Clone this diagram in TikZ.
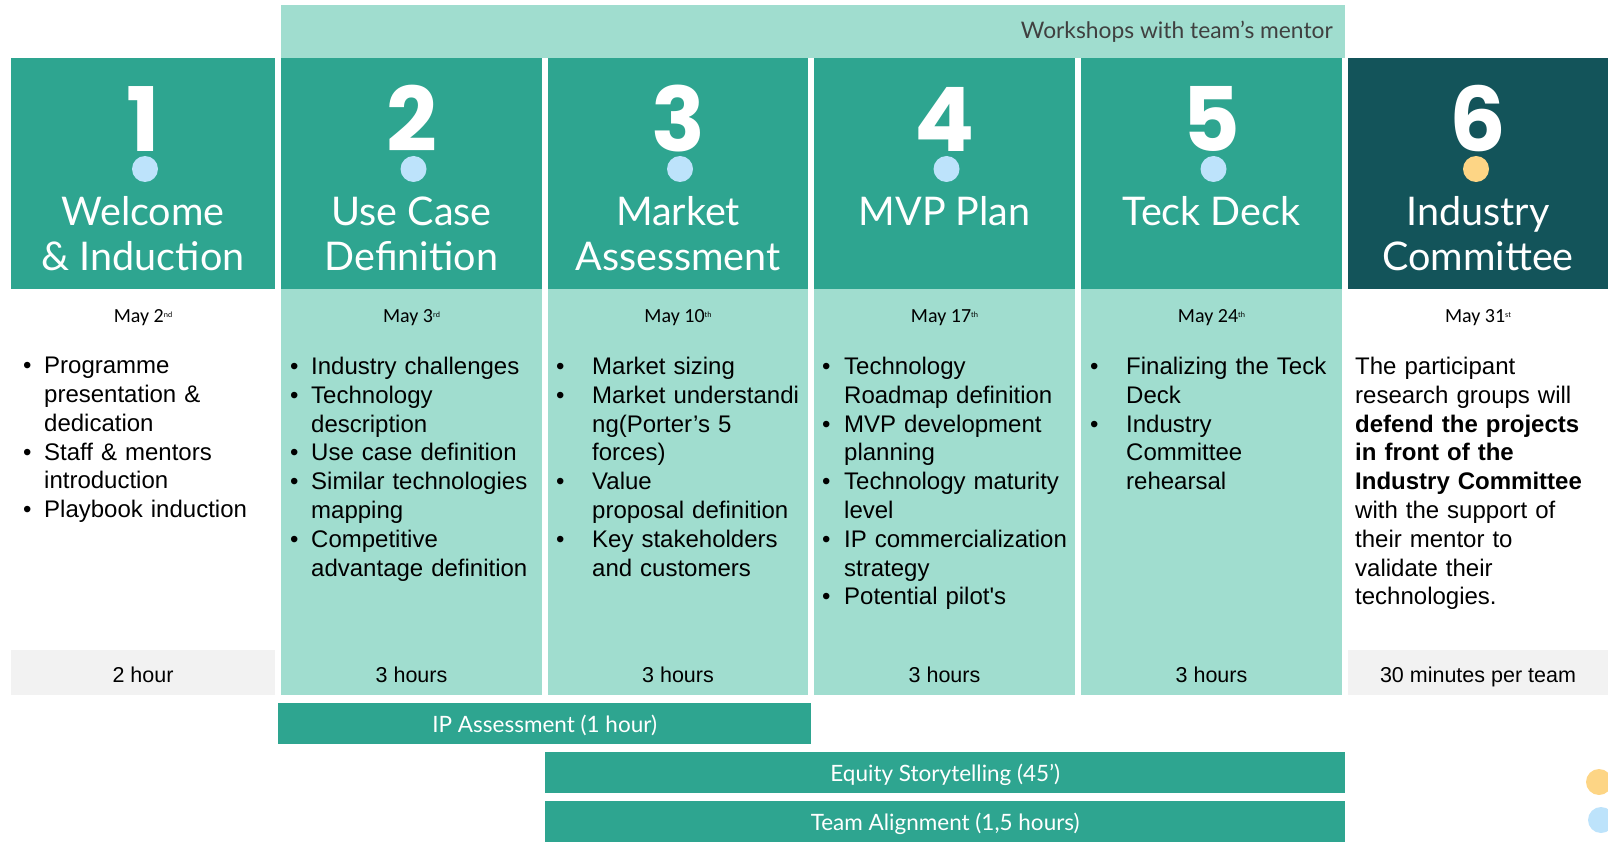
\documentclass[tikz,border=0pt]{standalone}
\usepackage{fontspec}
\setmainfont{Liberation Sans}
\newfontfamily\headfont{Lato}
\newfontfamily\numfont{Poppins}
\newfontfamily\datefont{Carlito}

\definecolor{midteal}{HTML}{2EA590}
\definecolor{lightteal}{HTML}{A0DDCF}
\definecolor{darkteal}{HTML}{13545A}
\definecolor{paleblue}{HTML}{BDE3FB}
\definecolor{paleyellow}{HTML}{FDD585}
\definecolor{greybox}{HTML}{F2F2F2}
\definecolor{bandtext}{HTML}{404040}

\newcommand{\sups}[1]{\raisebox{5pt}{\fontsize{8}{8}\selectfont #1}}
\newcommand{\bul}[2]{\noindent\hangindent=#1\hangafter=1\makebox[#1][l]{\hspace{-4pt}\textbullet}#2\par}

\begin{document}
\begin{tikzpicture}[x=1pt,y=-1pt,
    numtext/.style={anchor=base,inner sep=0,text=white,font=\numfont\bfseries\fontsize{89}{89}\selectfont},
    titletext/.style={anchor=base,inner sep=0,text=white,font=\headfont\fontsize{39.5}{39.5}\selectfont},
    datetext/.style={anchor=base,inner sep=0,font=\datefont\fontsize{20}{20}\selectfont},
    bodytext/.style={anchor=north west,inner sep=0,text width=300pt,font=\fontsize{24}{28.8}\selectfont},
    durtext/.style={anchor=base,inner sep=0,font=\fontsize{21.5}{21.5}\selectfont},
    bar/.style={anchor=north west,fill=midteal,text=white,inner sep=0,minimum height=41pt,text depth=0pt,font=\headfont\fontsize{22.5}{22.5}\selectfont}]
  \useasboundingbox (0,0) rectangle (1608,842);

  % top band
  \fill [lightteal] (281,5) rectangle (1345,58);
  \node (band) [anchor=base east,inner sep=0,text=bandtext,font=\headfont\fontsize{22.8}{22.8}\selectfont] at (1333,39) {Workshops with team’s mentor};

  % columns
  \foreach \l/\r in {11/275,281/542,548/808,814/1075,1081/1342}
    \fill [midteal] (\l,58) rectangle (\r,289);
  \fill [darkteal] (1348,58) rectangle (1608,289);
  \foreach \l/\r in {281/542,548/808,814/1075,1081/1342}
    \fill [lightteal] (\l,289) rectangle (\r,695);
  \fill [greybox] (11,650) rectangle (275,695);
  \fill [greybox] (1348,650) rectangle (1608,695);

  % numbers, dots and titles
  \foreach \x/\n/\a/\b [count=\i] in {143/1/Welcome/\& Induction, 411.5/2/Use Case/Definition,
      678/3/Market/Assessment, 944.5/4/MVP Plan/, 1211.5/5/Teck Deck/, 1478/6/Industry/Committee} {
    \node (num\i) [numtext] at (\x,152) {\n};
    \node (titleA\i) [titletext] at (\x,226) {\a};
    \node (titleB\i) [titletext] at (\x,270) {\b};
  }
  \foreach \x in {145,413.5,680,946.5,1213.5}
    \fill [paleblue] (\x,169) circle (13pt);
  \fill [paleyellow] (1476,169) circle (13pt);

  % dates
  \node (date1) [datetext] at (143,322) {May 2\sups{nd}};
  \node (date2) [datetext] at (411.5,322) {May 3\sups{rd}};
  \node (date3) [datetext] at (678,322) {May 10\sups{th}};
  \node (date4) [datetext] at (944.5,322) {May 17\sups{th}};
  \node (date5) [datetext] at (1211.5,322) {May 24\sups{th}};
  \node (date6) [datetext] at (1478,322) {May 31\sups{st}};

  % contents
  \node (body1) [bodytext] at (27,357) {\bul{17pt}{Programme\newline presentation \&\newline dedication}\bul{17pt}{Staff \& mentors\newline introduction}\bul{17pt}{Playbook induction}};
  \node (body2) [bodytext] at (294,357) {\bul{17pt}{Industry challenges}\bul{17pt}{Technology\newline description}\bul{17pt}{Use case definition}\bul{17pt}{Similar technologies\newline mapping}\bul{17pt}{Competitive\newline advantage definition}};
  \node (body3) [bodytext] at (560,357) {\bul{32pt}{Market sizing}\bul{32pt}{Market understandi\newline ng(Porter’s 5\newline forces)}\bul{32pt}{Value\newline proposal definition}\bul{32pt}{Key stakeholders\newline and customers}};
  \node (body4) [bodytext] at (826,357) {\bul{18pt}{Technology\newline Roadmap definition}\bul{18pt}{MVP development\newline planning}\bul{18pt}{Technology maturity\newline level}\bul{18pt}{IP commercialization\newline strategy}\bul{18pt}{Potential pilot\textquotesingle s}};
  \node (body5) [bodytext] at (1094,357) {\bul{32pt}{Finalizing the Teck\newline Deck}\bul{32pt}{Industry\newline Committee\newline rehearsal}};
  \node (body6) [bodytext] at (1355,357) {The participant\newline research groups will\newline \textbf{defend the projects\newline in front of the\newline Industry Committee}\newline with the support of\newline their mentor to\newline validate their\newline technologies.};

  % durations
  \node (dur1) [durtext] at (143,682) {2 hour};
  \foreach \x [count=\i from 2] in {411.5,678,944.5,1211.5}
    \node (dur\i) [durtext] at (\x,682) {3 hours};
  \node (dur6) [durtext] at (1478,682) {30 minutes per team};

  % sessions
  \node (ipbar) [bar,minimum width=533pt] at (278,703) {IP Assessment (1 hour)};
  \node (equitybar) [bar,minimum width=800pt] at (545,752) {Equity Storytelling (45’)};
  \node (teambar) [bar,minimum width=800pt] at (545,801) {Team Alignment (1,5 hours)};
  \fill [paleyellow] (1599,782) circle (13pt);
  \fill [paleblue] (1601,820) circle (13pt);
\end{tikzpicture}
\end{document}
